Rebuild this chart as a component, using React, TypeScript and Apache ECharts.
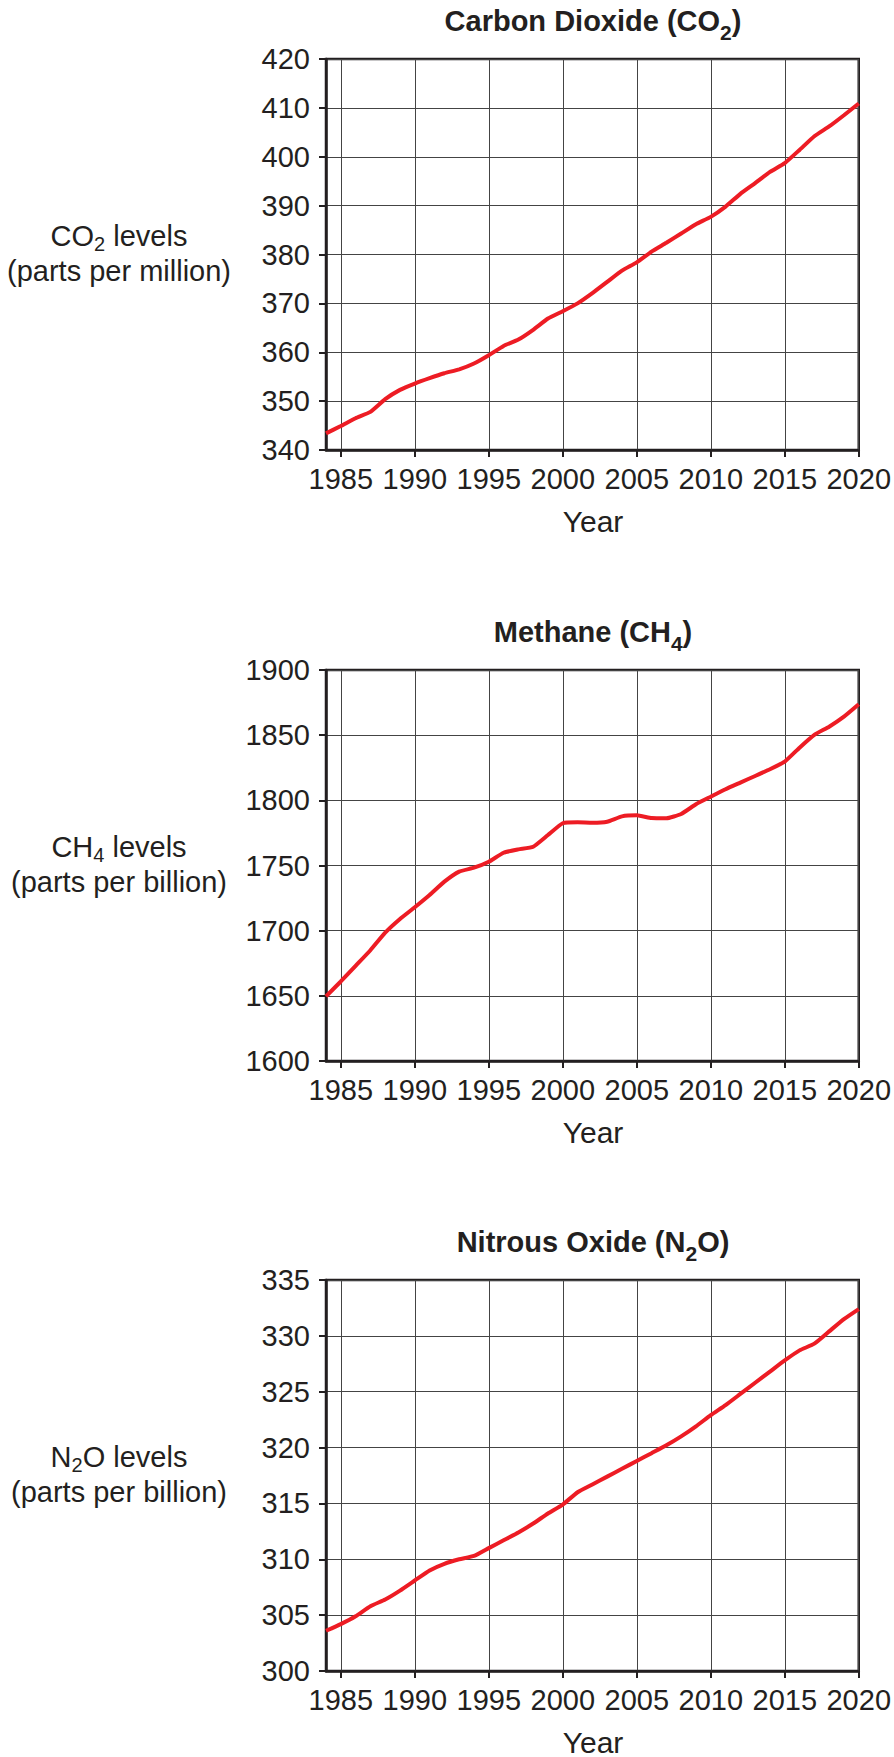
import React, { useEffect, useRef } from "react";
import * as echarts from "echarts";

const years = [
  "1984", "1985", "1986", "1987", "1988", "1989", "1990", "1991", "1992", "1993",
  "1994", "1995", "1996", "1997", "1998", "1999", "2000", "2001", "2002", "2003",
  "2004", "2005", "2006", "2007", "2008", "2009", "2010", "2011", "2012", "2013",
  "2014", "2015", "2016", "2017", "2018", "2019", "2020",
];

const co2 = [
  343.4, 344.9, 346.5, 347.8, 350.4, 352.3, 353.6, 354.7, 355.7, 356.5,
  357.7, 359.4, 361.3, 362.6, 364.6, 366.9, 368.4, 370.0, 372.1, 374.4,
  376.7, 378.4, 380.6, 382.4, 384.3, 386.2, 387.7, 389.8, 392.4, 394.6,
  396.9, 398.7, 401.4, 404.2, 406.2, 408.5, 410.9,
];

const ch4 = [
  1649.6, 1661, 1673, 1685, 1698.5, 1709, 1718, 1727.4, 1737.6, 1745.3,
  1748.3, 1752.9, 1759.8, 1762.4, 1764.4, 1773.4, 1782.4, 1783.1, 1782.8, 1783.6,
  1787.7, 1788.5, 1786.4, 1786.2, 1789.5, 1797, 1802.8, 1808.5, 1813.6, 1818.7,
  1823.8, 1829.7, 1840.4, 1850.2, 1856.5, 1864.2, 1873.7,
];

const n2o = [
  303.6, 304.2, 304.9, 305.8, 306.4, 307.2, 308.1, 309.0, 309.6, 310.0,
  310.3, 311.0, 311.7, 312.4, 313.2, 314.1, 314.9, 316.0, 316.7, 317.4,
  318.1, 318.8, 319.5, 320.2, 321.0, 321.9, 322.9, 323.8, 324.8, 325.8,
  326.8, 327.8, 328.7, 329.3, 330.4, 331.5, 332.4,
];

const titles = ["Carbon Dioxide (CO{sb|2})", "Methane (CH{sb|4})", "Nitrous Oxide (N{sb|2}O)"];
const nameLine1 = ["CO{s|2} levels", "CH{s|4} levels", "N{s|2}O levels"];
const nameLine2 = ["(parts per million)", "(parts per billion)", "(parts per billion)"];
const yMins = [340, 1600, 300];
const yMaxs = [420, 1900, 335];
const ySteps = [10, 50, 5];
const xTitle = "Year";

const FONT = '"Liberation Sans", Arial, Helvetica, sans-serif';
const INK = "#231F20";
const GRIDC = "#444444";
const RED = "#ED1C24";

const GRID_LEFT = 326;
const GRID_W = 534;
const GRID_H = 391;
const TOPS = [59, 670, 1280];

const every5 = (_i: number, v: string) => Number(v) % 5 === 0;

function txt(x: number, y: number, text: string, size: number, bold: boolean, subSize: number, subPad: number, lh: number) {
  const weight = bold ? "bold" : "normal";
  return {
    type: "text",
    x,
    y,
    silent: true,
    style: {
      text,
      x: 0,
      y: 0,
      fill: INK,
      fontSize: size,
      fontFamily: FONT,
      fontWeight: weight,
      lineHeight: lh,
      align: "center",
      verticalAlign: "middle",
      textAlign: "center",
      textVerticalAlign: "middle",
      rich: {
        s: { fontSize: subSize, fontFamily: FONT, fontWeight: weight, fill: INK, lineHeight: lh, padding: [subPad, 0, 0, 0] },
        sb: { fontSize: subSize, fontFamily: FONT, fontWeight: weight, fill: INK, lineHeight: lh, padding: [subPad, 0, 0, 0] },
      },
    },
  };
}

export default function App() {
  const ref = useRef<HTMLDivElement>(null);

  useEffect(() => {
    if (!ref.current) return;
    const chart = echarts.init(ref.current, null, { renderer: "svg" });
    const seriesData = [co2, ch4, n2o];
    const centerX = GRID_LEFT + GRID_W / 2;

    const graphics: any[] = [];
    TOPS.forEach((top, i) => {
      graphics.push(txt(centerX, top - 38, titles[i], 29, true, 21, 22, 35));
      graphics.push(txt(119, top + 194.5, nameLine1[i] + "\n" + nameLine2[i], 29, false, 20, 16, 35));
      graphics.push(txt(centerX, top + GRID_H + 71, xTitle, 30, false, 22, 0, 36));
    });

    const option: any = {
      animation: false,
      backgroundColor: "#ffffff",
      grid: TOPS.map((top) => ({
        left: GRID_LEFT,
        top,
        width: GRID_W,
        height: GRID_H,
        show: true,
        borderColor: INK,
        borderWidth: 2.5,
        backgroundColor: "transparent",
      })),
      xAxis: TOPS.map((_t, i) => ({
        type: "category",
        gridIndex: i,
        data: years,
        boundaryGap: false,
        axisLine: { show: true, onZero: false, lineStyle: { color: INK, width: 2.5 } },
        axisTick: { show: true, interval: every5, length: 7, lineStyle: { color: INK, width: 2 } },
        axisLabel: { interval: every5, color: INK, fontSize: 29, fontFamily: FONT, margin: 14 },
        splitLine: { show: true, interval: every5, lineStyle: { color: GRIDC, width: 1 } },
      })),
      yAxis: TOPS.map((_t, i) => ({
        type: "value",
        gridIndex: i,
        min: yMins[i],
        max: yMaxs[i],
        interval: ySteps[i],
        axisLine: { show: true, onZero: false, lineStyle: { color: INK, width: 2.5 } },
        axisTick: { show: true, length: 7, lineStyle: { color: INK, width: 2 } },
        axisLabel: { color: INK, fontSize: 29, fontFamily: FONT, margin: 16, formatter: (v: number) => String(v) },
        splitLine: { show: true, lineStyle: { color: GRIDC, width: 1 } },
      })),
      series: TOPS.map((_t, i) => ({
        type: "line",
        xAxisIndex: i,
        yAxisIndex: i,
        data: seriesData[i],
        showSymbol: false,
        symbol: "none",
        smooth: 0.15,
        z: 5,
        lineStyle: { color: RED, width: 4 },
      })),
      graphic: graphics,
    };

    chart.setOption(option);
    return () => chart.dispose();
  }, []);

  return (
    <div
      ref={ref}
      style={{ position: "absolute", left: 0, top: 0, width: 894, height: 1757, background: "#fff" }}
    />
  );
}
